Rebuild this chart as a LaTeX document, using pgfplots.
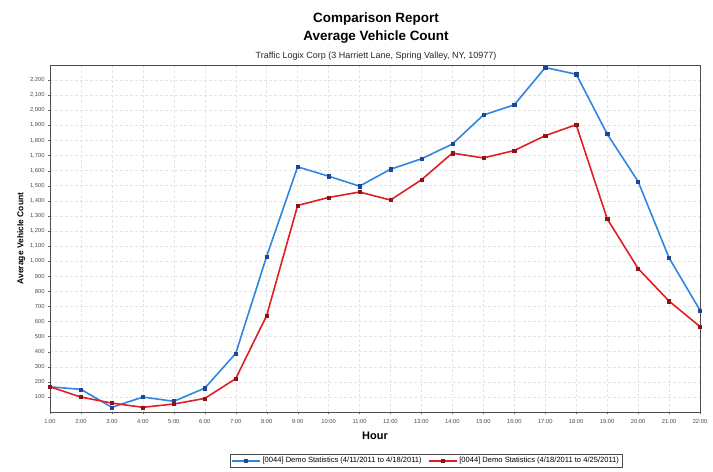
\documentclass[border=0pt]{standalone}
\usepackage{pgfplots}
\pgfplotsset{compat=1.18}
\usepackage{fontspec}
\setmainfont{Liberation Sans}
\definecolor{lblue}{RGB}{45,135,225}
\definecolor{dblue}{RGB}{30,70,150}
\definecolor{lred}{RGB}{225,30,35}
\definecolor{dred}{RGB}{140,20,25}
\begin{document}
\begin{tikzpicture}[x=1bp,y=1bp]
\path[use as bounding box] (-50bp,-60bp) rectangle (663bp,412bp);
\begin{axis}[
  at={(0bp,0bp)}, anchor=south west,
  width=650bp, height=347bp, scale only axis,
  xmin=1, xmax=22, ymin=0, ymax=2300,
  xtick={1,...,22},
  xticklabels={1:00,2:00,3:00,4:00,5:00,6:00,7:00,8:00,9:00,10:00,11:00,12:00,13:00,14:00,15:00,16:00,17:00,18:00,19:00,20:00,21:00,22:00},
  ytick={100,200,...,2200},
  yticklabel style={/pgf/number format/.cd,1000 sep={,},fixed},
  /pgf/number format/assume math mode=true,
  tick label style={font=\fontsize{5.8}{6}\selectfont, text=black!70},
  xticklabel style={yshift=-1.5bp},
  tick style={black!60},
  tick pos=left,
  tick align=outside, major tick length=2bp,
  grid=major,
  major grid style={densely dashed, black!10},
  axis line style={black!70, line width=0.8pt},
  xlabel={\bfseries Hour}, xlabel style={font=\fontsize{11}{12}\selectfont, yshift=-2bp},
  ylabel={\bfseries Average Vehicle Count}, ylabel style={font=\fontsize{8.5}{10}\selectfont, yshift=-2bp},
  legend style={at={(376bp,-49bp)}, anchor=center, legend columns=2, font=\fontsize{7.6}{8}\selectfont, draw=black!70, inner sep=1pt, /tikz/every even column/.append style={column sep=4bp}},
  legend image code/.code={\draw[#1] (0bp,0bp) -- (14bp,0bp) -- (28bp,0bp); \path[#1,only marks] plot coordinates {(14bp,0bp)};},
  legend cell align=left,
  clip=false,
]
\addplot[lblue, line width=1.6pt, mark=square*, mark size=1.6pt, mark options={fill=dblue, draw=dblue, line width=0.4pt}] coordinates {
(1,167) (2,150) (3,31) (4,99) (5,71) (6,158) (7,388) (8,1032) (9,1625) (10,1563) (11,1497) (12,1609) (13,1678) (14,1776) (15,1968) (16,2036) (17,2283) (18,2239) (19,1843) (20,1528) (21,1022) (22,674)};
\addlegendentry{[0044] Demo Statistics (4/11/2011 to 4/18/2011)}
\addplot[lred, line width=1.6pt, mark=square*, mark size=1.6pt, mark options={fill=dred, draw=dred, line width=0.4pt}] coordinates {
(1,167) (2,99) (3,59) (4,31) (5,53) (6,90) (7,221) (8,639) (9,1369) (10,1422) (11,1458) (12,1405) (13,1539) (14,1716) (15,1684) (16,1733) (17,1832) (18,1904) (19,1281) (20,951) (21,735) (22,566)};
\addlegendentry{[0044] Demo Statistics (4/18/2011 to 4/25/2011)}
\end{axis}
\node[font=\bfseries\fontsize{13.5}{15}\selectfont] at (326bp,393bp) {Comparison Report};
\node[font=\bfseries\fontsize{13.5}{15}\selectfont] at (326bp,375bp) {Average Vehicle Count};
\node[font=\fontsize{9}{10}\selectfont, text=black!85] at (326bp,356bp) {Traffic Logix Corp (3 Harriett Lane, Spring Valley, NY, 10977)};
\end{tikzpicture}
\end{document}
